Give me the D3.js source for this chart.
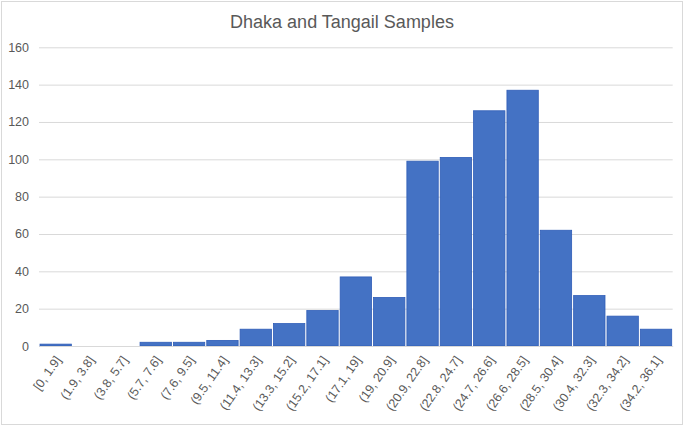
<!DOCTYPE html>
<html>
<head>
<meta charset="utf-8">
<script src="https://cdn.jsdelivr.net/npm/d3@7"></script>
<style>
  html, body { margin: 0; padding: 0; background: #fff; }
  svg { display: block; }
  text { font-family: "Liberation Sans", Arial, sans-serif; fill: #595959; }
</style>
</head>
<body>
<div id="chart"></div>
<script>
const title = "Dhaka and Tangail Samples";
const categories = ["[0, 1.9]", "(1.9, 3.8]", "(3.8, 5.7]", "(5.7, 7.6]", "(7.6, 9.5]", "(9.5, 11.4]",
  "(11.4, 13.3]", "(13.3, 15.2]", "(15.2, 17.1]", "(17.1, 19]", "(19, 20.9]", "(20.9, 22.8]",
  "(22.8, 24.7]", "(24.7, 26.6]", "(26.6, 28.5]", "(28.5, 30.4]", "(30.4, 32.3]", "(32.3, 34.2]", "(34.2, 36.1]"];
const counts = [1, 0, 0, 2, 2, 3, 9, 12, 19, 37, 26, 99, 101, 126, 137, 62, 27, 16, 9];
const yTicks = [0, 20, 40, 60, 80, 100, 120, 140, 160];

const W = 685, H = 427;
const plot = { left: 39, right: 672.7, top: 47.3, bottom: 346 };

const svg = d3.select("#chart").append("svg").attr("width", W).attr("height", H);

// chart border
svg.append("rect").attr("x", 1.5).attr("y", 1.5).attr("width", W - 4).attr("height", H - 4)
  .attr("fill", "#fff").attr("stroke", "#D9D9D9").attr("stroke-width", 1);

const x = d3.scaleBand().domain(categories).range([plot.left, plot.right]).padding(0);
const y = d3.scaleLinear().domain([0, 160]).range([plot.bottom, plot.top]);

// gridlines
const yAxis = d3.axisLeft(y).tickValues(yTicks).tickSize(-(plot.right - plot.left)).tickPadding(10).tickFormat(d3.format("d"));
const gy = svg.append("g").attr("transform", `translate(${plot.left},0)`).call(yAxis);
gy.select(".domain").remove();
gy.selectAll(".tick line").attr("stroke", "#D9D9D9").attr("stroke-width", 1);
gy.selectAll(".tick text").attr("font-size", 12.5).attr("fill", "#595959")
  .attr("font-family", "Liberation Sans, Arial, sans-serif");

// bars
svg.append("g").selectAll("rect").data(counts).join("rect")
  .attr("x", (d, i) => x(categories[i]) + 1)
  .attr("width", x.bandwidth() - 2)
  .attr("y", d => y(d))
  .attr("height", d => y(0) - y(d))
  .attr("fill", "#4472C4")
  .attr("stroke", d => d > 0 ? "#2F5DB7" : "none")
  .attr("stroke-width", 0.8);

// x axis
const xAxis = d3.axisBottom(x).tickSize(0).tickPadding(0);
const gx = svg.append("g").attr("transform", `translate(0,${plot.bottom})`).call(xAxis);
gx.select(".domain").attr("stroke", "#D9D9D9");
gx.selectAll(".tick text")
  .attr("font-size", 12.5)
  .attr("font-family", "Liberation Sans, Arial, sans-serif")
  .attr("fill", "#595959")
  .attr("text-anchor", "end")
  .attr("dy", 0)
  .attr("transform", "translate(6,14) rotate(-55)");

// title
svg.append("text").attr("x", 342).attr("y", 28).attr("text-anchor", "middle")
  .attr("font-size", 18).attr("fill", "#595959").text(title);
</script>
</body>
</html>
